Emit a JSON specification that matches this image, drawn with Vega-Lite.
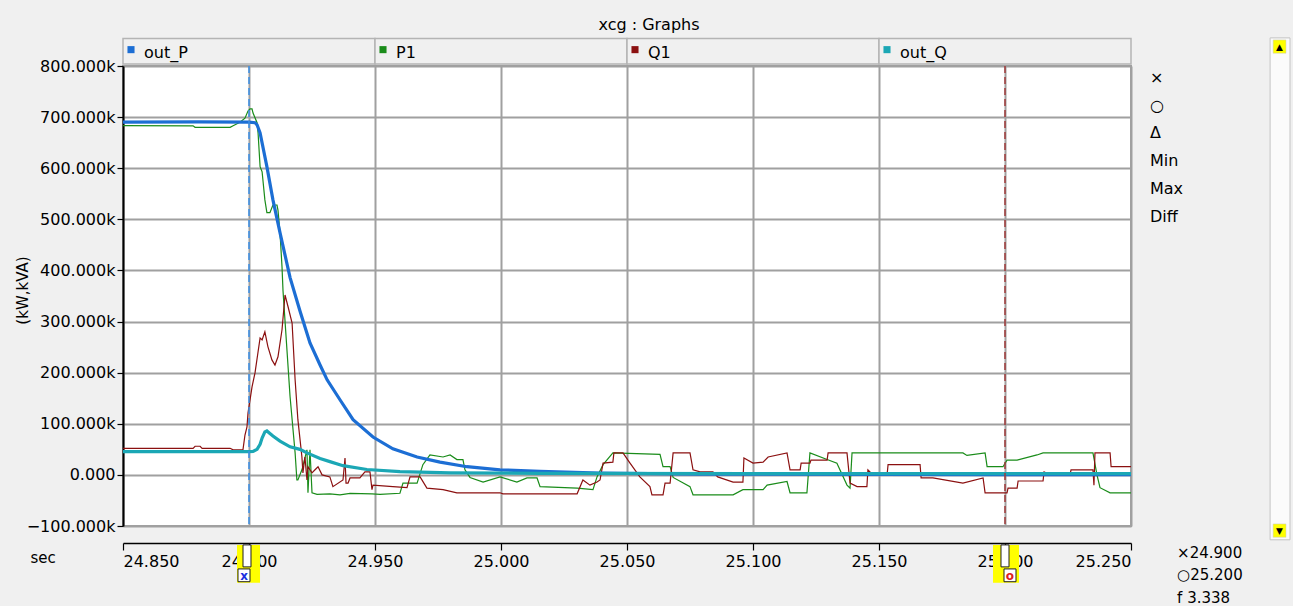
{
  "$schema": "https://vega.github.io/schema/vega-lite/v6.json",
  "width": 1008,
  "height": 460,
  "autosize": {"type": "none"},
  "padding": {"left": 123, "top": 66, "right": 162, "bottom": 80},
  "background": "#f0f0f0",
  "title": {"text": "xcg : Graphs", "fontSize": 16, "fontWeight": "normal", "font": "DejaVu Sans", "color": "black", "anchor": "middle", "dx": 22, "offset": -4, "baseline": "middle"},
  "config": {
    "font": "DejaVu Sans",
    "view": {"stroke": "#a0a0a0", "strokeWidth": 2, "fill": "white"}
  },
  "data": {"values": [{}]},
  "datasets": {
    "series": [
      {"s":"P1","t":24.85,"v":683.5},{"s":"P1","t":24.8778,"v":683},{"s":"P1","t":24.8786,"v":680},{"s":"P1","t":24.8925,"v":680},{"s":"P1","t":24.8937,"v":683},{"s":"P1","t":24.8964,"v":690},{"s":"P1","t":24.8984,"v":698},{"s":"P1","t":24.8996,"v":712},{"s":"P1","t":24.9004,"v":716},{"s":"P1","t":24.9012,"v":716},{"s":"P1","t":24.9016,"v":708},{"s":"P1","t":24.9032,"v":689},{"s":"P1","t":24.9036,"v":669},{"s":"P1","t":24.9044,"v":603},{"s":"P1","t":24.9052,"v":593},{"s":"P1","t":24.9063,"v":538},{"s":"P1","t":24.9071,"v":513},{"s":"P1","t":24.9083,"v":513},{"s":"P1","t":24.9095,"v":528},{"s":"P1","t":24.9111,"v":528},{"s":"P1","t":24.9115,"v":518},{"s":"P1","t":24.9123,"v":474},{"s":"P1","t":24.9131,"v":407},{"s":"P1","t":24.9135,"v":360},{"s":"P1","t":24.9163,"v":153},{"s":"P1","t":24.9183,"v":43},{"s":"P1","t":24.919,"v":-10},{"s":"P1","t":24.9194,"v":-10},{"s":"P1","t":24.921,"v":10},{"s":"P1","t":24.923,"v":49},{"s":"P1","t":24.9234,"v":-35},{"s":"P1","t":24.9242,"v":49},{"s":"P1","t":24.925,"v":-35},{"s":"P1","t":24.927,"v":-38},{"s":"P1","t":24.9321,"v":-37},{"s":"P1","t":24.9361,"v":-39},{"s":"P1","t":24.9401,"v":-36},{"s":"P1","t":24.9488,"v":-37},{"s":"P1","t":24.952,"v":-38},{"s":"P1","t":24.9599,"v":-36},{"s":"P1","t":24.9611,"v":-16},{"s":"P1","t":24.9667,"v":-16},{"s":"P1","t":24.969,"v":20},{"s":"P1","t":24.9718,"v":39},{"s":"P1","t":24.977,"v":35},{"s":"P1","t":24.9798,"v":39},{"s":"P1","t":24.9825,"v":30},{"s":"P1","t":24.9849,"v":30},{"s":"P1","t":24.9857,"v":10},{"s":"P1","t":24.9877,"v":-5},{"s":"P1","t":24.9929,"v":-14},{"s":"P1","t":24.9996,"v":-4},{"s":"P1","t":25.0063,"v":-14},{"s":"P1","t":25.0103,"v":-6},{"s":"P1","t":25.0143,"v":-6},{"s":"P1","t":25.0155,"v":-23},{"s":"P1","t":25.0302,"v":-26},{"s":"P1","t":25.0365,"v":-29},{"s":"P1","t":25.0381,"v":-4},{"s":"P1","t":25.0405,"v":20},{"s":"P1","t":25.0444,"v":43},{"s":"P1","t":25.0631,"v":40},{"s":"P1","t":25.0643,"v":16},{"s":"P1","t":25.0671,"v":16},{"s":"P1","t":25.0683,"v":-5},{"s":"P1","t":25.075,"v":-23},{"s":"P1","t":25.0762,"v":-39},{"s":"P1","t":25.0921,"v":-39},{"s":"P1","t":25.096,"v":-29},{"s":"P1","t":25.104,"v":-29},{"s":"P1","t":25.1056,"v":-20},{"s":"P1","t":25.1135,"v":-13},{"s":"P1","t":25.1147,"v":-35},{"s":"P1","t":25.1214,"v":-35},{"s":"P1","t":25.1226,"v":43},{"s":"P1","t":25.1294,"v":30},{"s":"P1","t":25.1333,"v":23},{"s":"P1","t":25.1373,"v":-20},{"s":"P1","t":25.1385,"v":-26},{"s":"P1","t":25.1393,"v":43},{"s":"P1","t":25.1833,"v":43},{"s":"P1","t":25.1849,"v":38},{"s":"P1","t":25.1921,"v":43},{"s":"P1","t":25.1929,"v":16},{"s":"P1","t":25.1992,"v":16},{"s":"P1","t":25.2008,"v":29},{"s":"P1","t":25.2048,"v":29},{"s":"P1","t":25.2127,"v":39},{"s":"P1","t":25.2151,"v":43},{"s":"P1","t":25.2349,"v":43},{"s":"P1","t":25.2365,"v":0},{"s":"P1","t":25.2377,"v":-25},{"s":"P1","t":25.2417,"v":-35},{"s":"P1","t":25.25,"v":-35},
      {"s":"Q1","t":24.85,"v":52},{"s":"Q1","t":24.8778,"v":52},{"s":"Q1","t":24.8786,"v":56},{"s":"Q1","t":24.8806,"v":56},{"s":"Q1","t":24.8814,"v":52},{"s":"Q1","t":24.8925,"v":52},{"s":"Q1","t":24.8937,"v":49},{"s":"Q1","t":24.8976,"v":49},{"s":"Q1","t":24.8984,"v":78},{"s":"Q1","t":24.8992,"v":94},{"s":"Q1","t":24.8996,"v":121},{"s":"Q1","t":24.9012,"v":172},{"s":"Q1","t":24.9024,"v":200},{"s":"Q1","t":24.9036,"v":241},{"s":"Q1","t":24.9044,"v":268},{"s":"Q1","t":24.9052,"v":264},{"s":"Q1","t":24.9063,"v":280},{"s":"Q1","t":24.9075,"v":251},{"s":"Q1","t":24.9091,"v":225},{"s":"Q1","t":24.9103,"v":215},{"s":"Q1","t":24.9115,"v":231},{"s":"Q1","t":24.9131,"v":284},{"s":"Q1","t":24.9143,"v":352},{"s":"Q1","t":24.9155,"v":329},{"s":"Q1","t":24.9171,"v":297},{"s":"Q1","t":24.9183,"v":186},{"s":"Q1","t":24.9194,"v":108},{"s":"Q1","t":24.921,"v":35},{"s":"Q1","t":24.9214,"v":4},{"s":"Q1","t":24.9222,"v":35},{"s":"Q1","t":24.923,"v":-10},{"s":"Q1","t":24.9234,"v":16},{"s":"Q1","t":24.925,"v":4},{"s":"Q1","t":24.9262,"v":10},{"s":"Q1","t":24.9274,"v":16},{"s":"Q1","t":24.929,"v":0},{"s":"Q1","t":24.9321,"v":-4},{"s":"Q1","t":24.9333,"v":-23},{"s":"Q1","t":24.9373,"v":-10},{"s":"Q1","t":24.9381,"v":33},{"s":"Q1","t":24.9385,"v":-16},{"s":"Q1","t":24.9393,"v":-16},{"s":"Q1","t":24.9401,"v":-6},{"s":"Q1","t":24.944,"v":-6},{"s":"Q1","t":24.946,"v":6},{"s":"Q1","t":24.948,"v":6},{"s":"Q1","t":24.9488,"v":-29},{"s":"Q1","t":24.9492,"v":-20},{"s":"Q1","t":24.9571,"v":-23},{"s":"Q1","t":24.9627,"v":-25},{"s":"Q1","t":24.9639,"v":-4},{"s":"Q1","t":24.9679,"v":-4},{"s":"Q1","t":24.9706,"v":-26},{"s":"Q1","t":24.977,"v":-29},{"s":"Q1","t":24.9825,"v":-35},{"s":"Q1","t":24.9996,"v":-35},{"s":"Q1","t":25.0008,"v":-37},{"s":"Q1","t":25.0302,"v":-37},{"s":"Q1","t":25.0325,"v":-10},{"s":"Q1","t":25.0353,"v":-20},{"s":"Q1","t":25.0381,"v":-14},{"s":"Q1","t":25.0393,"v":-10},{"s":"Q1","t":25.0405,"v":23},{"s":"Q1","t":25.0444,"v":25},{"s":"Q1","t":25.0448,"v":43},{"s":"Q1","t":25.0484,"v":43},{"s":"Q1","t":25.0512,"v":23},{"s":"Q1","t":25.0551,"v":-4},{"s":"Q1","t":25.0591,"v":-23},{"s":"Q1","t":25.0599,"v":-39},{"s":"Q1","t":25.0643,"v":-39},{"s":"Q1","t":25.0651,"v":-16},{"s":"Q1","t":25.0671,"v":-16},{"s":"Q1","t":25.0683,"v":43},{"s":"Q1","t":25.075,"v":43},{"s":"Q1","t":25.0762,"v":10},{"s":"Q1","t":25.079,"v":6},{"s":"Q1","t":25.0841,"v":6},{"s":"Q1","t":25.086,"v":-4},{"s":"Q1","t":25.0921,"v":-14},{"s":"Q1","t":25.096,"v":-14},{"s":"Q1","t":25.0964,"v":33},{"s":"Q1","t":25.1,"v":23},{"s":"Q1","t":25.104,"v":25},{"s":"Q1","t":25.106,"v":35},{"s":"Q1","t":25.1135,"v":43},{"s":"Q1","t":25.1147,"v":10},{"s":"Q1","t":25.1187,"v":10},{"s":"Q1","t":25.1191,"v":23},{"s":"Q1","t":25.1226,"v":23},{"s":"Q1","t":25.123,"v":29},{"s":"Q1","t":25.1294,"v":29},{"s":"Q1","t":25.1298,"v":43},{"s":"Q1","t":25.1373,"v":43},{"s":"Q1","t":25.1385,"v":-16},{"s":"Q1","t":25.1413,"v":-23},{"s":"Q1","t":25.1452,"v":-23},{"s":"Q1","t":25.1456,"v":10},{"s":"Q1","t":25.1476,"v":0},{"s":"Q1","t":25.1532,"v":0},{"s":"Q1","t":25.1536,"v":20},{"s":"Q1","t":25.1663,"v":20},{"s":"Q1","t":25.1667,"v":-6},{"s":"Q1","t":25.1714,"v":-6},{"s":"Q1","t":25.1833,"v":-16},{"s":"Q1","t":25.1913,"v":-6},{"s":"Q1","t":25.1921,"v":-35},{"s":"Q1","t":25.2008,"v":-35},{"s":"Q1","t":25.2012,"v":-26},{"s":"Q1","t":25.2048,"v":-26},{"s":"Q1","t":25.2052,"v":-12},{"s":"Q1","t":25.2151,"v":-12},{"s":"Q1","t":25.2155,"v":6},{"s":"Q1","t":25.2179,"v":0},{"s":"Q1","t":25.2258,"v":0},{"s":"Q1","t":25.2262,"v":10},{"s":"Q1","t":25.2349,"v":10},{"s":"Q1","t":25.2353,"v":-20},{"s":"Q1","t":25.2357,"v":43},{"s":"Q1","t":25.2417,"v":43},{"s":"Q1","t":25.2421,"v":16},{"s":"Q1","t":25.25,"v":16},
      {"s":"out_P","t":24.85,"v":690},{"s":"out_P","t":24.88,"v":690.5},{"s":"out_P","t":24.9,"v":690},{"s":"out_P","t":24.9024,"v":689},{"s":"out_P","t":24.9032,"v":685},{"s":"out_P","t":24.9044,"v":669},{"s":"out_P","t":24.9071,"v":603},{"s":"out_P","t":24.9095,"v":538},{"s":"out_P","t":24.9123,"v":474},{"s":"out_P","t":24.9163,"v":386},{"s":"out_P","t":24.9202,"v":321},{"s":"out_P","t":24.9242,"v":258},{"s":"out_P","t":24.9282,"v":215},{"s":"out_P","t":24.931,"v":186},{"s":"out_P","t":24.9361,"v":147},{"s":"out_P","t":24.9413,"v":108},{"s":"out_P","t":24.9492,"v":74},{"s":"out_P","t":24.9571,"v":51},{"s":"out_P","t":24.9667,"v":35},{"s":"out_P","t":24.9758,"v":25},{"s":"out_P","t":24.9865,"v":16},{"s":"out_P","t":24.9996,"v":10},{"s":"out_P","t":25.0155,"v":7},{"s":"out_P","t":25.0393,"v":3.5},{"s":"out_P","t":25.079,"v":1.5},{"s":"out_P","t":25.15,"v":0.8},{"s":"out_P","t":25.25,"v":0.5},
      {"s":"out_Q","t":24.85,"v":45.5},{"s":"out_Q","t":24.9,"v":45.5},{"s":"out_Q","t":24.9016,"v":46},{"s":"out_Q","t":24.9032,"v":50},{"s":"out_Q","t":24.9044,"v":60},{"s":"out_Q","t":24.9052,"v":72},{"s":"out_Q","t":24.9063,"v":84},{"s":"out_Q","t":24.9071,"v":86},{"s":"out_Q","t":24.9083,"v":81},{"s":"out_Q","t":24.9095,"v":76},{"s":"out_Q","t":24.9123,"v":66},{"s":"out_Q","t":24.9163,"v":55},{"s":"out_Q","t":24.9202,"v":50},{"s":"out_Q","t":24.923,"v":43},{"s":"out_Q","t":24.9282,"v":32},{"s":"out_Q","t":24.9321,"v":26},{"s":"out_Q","t":24.9373,"v":18},{"s":"out_Q","t":24.9468,"v":10.5},{"s":"out_Q","t":24.9599,"v":6.5},{"s":"out_Q","t":24.9798,"v":4},{"s":"out_Q","t":25.0155,"v":3},{"s":"out_Q","t":25.1,"v":2.5},{"s":"out_Q","t":25.25,"v":2.5}
    ],
    "tabs": [
      {"s": "out_P", "a": 24.85, "b": 24.95},
      {"s": "P1", "a": 24.95, "b": 25.05},
      {"s": "Q1", "a": 25.05, "b": 25.15},
      {"s": "out_Q", "a": 25.15, "b": 25.25}
    ]
  },
  "layer": [
    {
      "data": {"name": "series"},
      "transform": [{"filter": {"field": "s", "oneOf": ["P1", "Q1"]}}],
      "mark": {"type": "line", "strokeWidth": 1.2, "interpolate": "linear"},
      "encoding": {
        "x": {"field": "t", "type": "quantitative",
          "scale": {"domain": [24.85, 25.25], "nice": false, "zero": false},
          "axis": {"values": [24.85, 24.9, 24.95, 25, 25.05, 25.1, 25.15, 25.2, 25.25], "format": ".3f",
            "title": "sec", "titleX": -93, "titleY": 14, "titleAlign": "left", "titleBaseline": "middle", "titleAngle": 0,
            "titleFontSize": 15, "titleFontWeight": "normal", "titleColor": "black", "titleFont": "DejaVu Sans",
            "offset": 17, "tickSize": 7, "labelPadding": 3, "labelFontSize": 16, "labelColor": "black", "labelFont": "DejaVu Sans",
            "grid": true, "gridColor": "#a0a0a0", "gridWidth": 2, "domainColor": "black", "domainWidth": 1.5, "tickColor": "black", "tickWidth": 1.2, "zindex": 0, "labelOverlap": false}},
        "y": {"field": "v", "type": "quantitative",
          "scale": {"domain": [-100, 800], "nice": false, "zero": false},
          "axis": {"values": [-100, 0, 100, 200, 300, 400, 500, 600, 700, 800],
            "labelExpr": "datum.value == 0 ? '0.000\u00a0' : format(datum.value, '.3f') + 'k'",
            "title": "(kW,kVA)", "titleX": -101, "titleY": 224, "titleAngle": -90, "titleAlign": "center", "titleBaseline": "middle",
            "titleFontSize": 15, "titleFontWeight": "normal", "titleColor": "black", "titleFont": "DejaVu Sans",
            "tickSize": 6, "labelPadding": 2, "labelFontSize": 16, "labelColor": "black", "labelFont": "DejaVu Sans",
            "grid": true, "gridColor": "#a0a0a0", "gridWidth": 2, "domainColor": "black", "domainWidth": 2, "tickColor": "black", "tickWidth": 1.2, "zindex": 0, "labelOverlap": false}},
        "color": {"field": "s", "type": "nominal", "legend": null,
          "scale": {"domain": ["out_P", "P1", "Q1", "out_Q"], "range": ["#1c6ed4", "#1a8c1a", "#8b1010", "#1ba7b5"]}}
      }
    },
    {
      "data": {"name": "series"},
      "transform": [{"filter": {"field": "s", "oneOf": ["out_P", "out_Q"]}}],
      "mark": {"type": "line", "strokeWidth": 3.2, "interpolate": "linear"},
      "encoding": {
        "x": {"field": "t", "type": "quantitative"},
        "y": {"field": "v", "type": "quantitative"},
        "color": {"field": "s", "type": "nominal", "legend": null}
      }
    },
    {
      "mark": {"type": "rule", "color": "#3a8ee6", "strokeDash": [7, 4], "strokeWidth": 1.5},
      "encoding": {"x": {"datum": 24.9}}
    },
    {
      "mark": {"type": "rule", "color": "#a03a3a", "strokeDash": [7, 4], "strokeWidth": 1.5},
      "encoding": {"x": {"datum": 25.2}}
    },
    {
      "data": {"name": "tabs"},
      "mark": {"type": "rect", "fill": "#f0f0f0", "stroke": "#b4b4b4", "strokeWidth": 1.5},
      "encoding": {
        "x": {"field": "a", "type": "quantitative"},
        "x2": {"field": "b"},
        "y": {"datum": 854},
        "y2": {"datum": 804}
      }
    },
    {
      "data": {"name": "tabs"},
      "mark": {"type": "square", "filled": true, "size": 50, "xOffset": 8, "opacity": 1},
      "encoding": {
        "x": {"field": "a", "type": "quantitative"},
        "y": {"datum": 832},
        "color": {"field": "s", "type": "nominal", "legend": null}
      }
    },
    {
      "data": {"name": "tabs"},
      "mark": {"type": "text", "align": "left", "baseline": "middle", "dx": 21, "fontSize": 16, "font": "DejaVu Sans", "color": "black"},
      "encoding": {
        "x": {"field": "a", "type": "quantitative"},
        "y": {"datum": 826},
        "text": {"field": "s"}
      }
    },
    {
      "mark": {"type": "rect", "fill": "#fbfbfb", "stroke": "#c4c4c4", "strokeWidth": 1},
      "encoding": {"x": {"datum": 25.3052}, "x2": {"datum": 25.3131}, "y": {"datum": 855}, "y2": {"datum": -127}}
    },
    {
      "mark": {"type": "rect", "fill": "#ffff00", "stroke": "#c8c8c8", "strokeWidth": 0.5},
      "encoding": {"x": {"datum": 25.3064}, "x2": {"datum": 25.3115}, "y": {"datum": 851}, "y2": {"datum": 825}}
    },
    {
      "mark": {"type": "rect", "fill": "#ffff00", "stroke": "#c8c8c8", "strokeWidth": 0.5},
      "encoding": {"x": {"datum": 25.3064}, "x2": {"datum": 25.3115}, "y": {"datum": -96}, "y2": {"datum": -122}}
    },
    {
      "mark": {"type": "text", "text": "▲", "fontSize": 9, "color": "black", "align": "center", "baseline": "middle"},
      "encoding": {"x": {"datum": 25.3089}, "y": {"datum": 838}}
    },
    {
      "mark": {"type": "text", "text": "▼", "fontSize": 9, "color": "black", "align": "center", "baseline": "middle"},
      "encoding": {"x": {"datum": 25.3089}, "y": {"datum": -109}}
    },
    {
      "mark": {"type": "text", "text": ["×", "○", "Δ", "Min", "Max", "Diff"], "lineHeight": 27.8, "fontSize": 16, "font": "DejaVu Sans", "color": "black", "align": "left", "baseline": "middle"},
      "encoding": {"x": {"datum": 25.2575}, "y": {"datum": 777}}
    },
    {
      "mark": {"type": "rect", "fill": "#ffff00"},
      "encoding": {"x": {"datum": 24.89524}, "x2": {"datum": 24.90437}, "y": {"datum": -137}, "y2": {"datum": -211}}
    },
    {
      "mark": {"type": "rect", "fill": "#ffff00"},
      "encoding": {"x": {"datum": 25.19524}, "x2": {"datum": 25.20556}, "y": {"datum": -137}, "y2": {"datum": -211}}
    },
    {
      "mark": {"type": "rect", "fill": "white", "stroke": "#202020", "strokeWidth": 1},
      "encoding": {"x": {"datum": 24.89762}, "x2": {"datum": 24.90079}, "y": {"datum": -137}, "y2": {"datum": -180}}
    },
    {
      "mark": {"type": "rect", "fill": "white", "stroke": "#202020", "strokeWidth": 1},
      "encoding": {"x": {"datum": 24.89563}, "x2": {"datum": 24.9004}, "y": {"datum": -184}, "y2": {"datum": -209}}
    },
    {
      "mark": {"type": "text", "text": "x", "fontSize": 12, "fontWeight": "bold", "color": "#2030e0", "align": "center", "baseline": "middle"},
      "encoding": {"x": {"datum": 24.89802}, "y": {"datum": -197}}
    },
    {
      "mark": {"type": "rect", "fill": "white", "stroke": "#202020", "strokeWidth": 1},
      "encoding": {"x": {"datum": 25.19841}, "x2": {"datum": 25.20159}, "y": {"datum": -137}, "y2": {"datum": -180}}
    },
    {
      "mark": {"type": "rect", "fill": "white", "stroke": "#202020", "strokeWidth": 1},
      "encoding": {"x": {"datum": 25.1996}, "x2": {"datum": 25.20437}, "y": {"datum": -184}, "y2": {"datum": -209}}
    },
    {
      "mark": {"type": "text", "text": "o", "fontSize": 12, "fontWeight": "bold", "color": "#e02020", "align": "center", "baseline": "middle"},
      "encoding": {"x": {"datum": 25.20198}, "y": {"datum": -197}}
    },
    {
      "mark": {"type": "text", "text": ["×24.900", "○25.200", "f 3.338"], "lineHeight": 22.5, "fontSize": 15, "font": "DejaVu Sans", "color": "black", "align": "left", "baseline": "middle"},
      "encoding": {"x": {"datum": 25.2683}, "y": {"datum": -152}}
    }
  ]
}
